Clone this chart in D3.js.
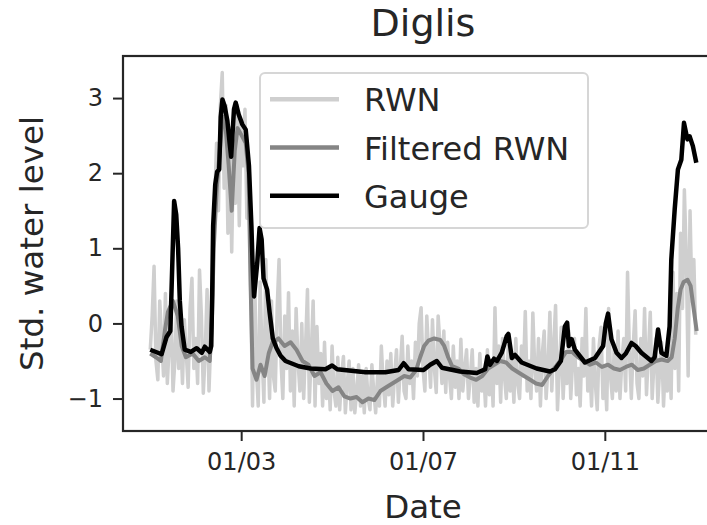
<!DOCTYPE html>
<html>
<head>
<meta charset="utf-8">
<script src="https://cdn.jsdelivr.net/npm/d3@7"></script>
<style>
  body { margin: 0; background: #fff; }
  svg { display: block; font-family: "DejaVu Sans", sans-serif; }
</style>
</head>
<body>
<div id="viz"></div>
<script>
// Data (hours since 01/01 00:00, standardised water level)
const gaugeHours = [0, 6, 8.6, 10.6, 12.6, 13.7, 14.7, 15.6, 16.5, 18.2, 21.4, 24.5, 27.2, 28.8, 31.4, 32.2,
  32.7, 33.2, 34.3, 35.3, 36.4, 37.2, 38.1, 39.3, 40.7, 41.9, 42.7, 44.2, 45.1, 46.7, 48.6, 50.4, 52.1,
  53.4, 54, 54.8, 56.5, 57.7, 58.8, 59.8, 61.7, 63, 64.7, 66.7, 68.8, 71.4, 78.4, 84.6, 92.5, 96, 98.7,
  113.6, 124.1, 131.1, 133.8, 136.4, 144.3, 147.8, 151.3, 154, 163.6, 172.4, 176.8, 178, 179.4, 181.5,
  183.1, 185.6, 188.2, 189.1, 190.9, 192.6, 196.1, 204, 211, 213.7, 216.8, 218.9, 220.1, 221, 222.5,
  224.2, 229.5, 234.8, 239.1, 240.5, 241.7, 243.5, 246.2, 248.8, 251.1, 254.1, 256.3, 259.3, 264.6,
  266.3, 268.1, 269.9, 272.5, 274.2, 275.1, 276.9, 278.6, 280.4, 281.8, 283.6, 284.8, 286.5, 288.3];
const gaugeValues = [-0.35, -0.41, -0.18, -0.1, 1.63, 1.45, 1.0, 0.3, -0.04, -0.35, -0.38, -0.33, -0.39, -0.31, -0.38, -0.3,
  0.4, 1.3, 1.85, 2.02, 2.05, 2.75, 2.98, 2.89, 2.7, 2.4, 2.22, 2.85, 2.94, 2.78, 2.65, 2.58, 2.1,
  1.3, 0.8, 0.36, 0.81, 1.27, 1.12, 0.6, 0.45, 0.15, -0.2, -0.33, -0.43, -0.5, -0.57, -0.6, -0.61, -0.56, -0.61,
  -0.65, -0.65, -0.62, -0.53, -0.61, -0.62, -0.55, -0.5, -0.59, -0.64, -0.66, -0.61, -0.44, -0.55, -0.47,
  -0.5, -0.39, -0.17, -0.14, -0.46, -0.42, -0.52, -0.6, -0.64, -0.61, -0.5, -0.04, 0.01, -0.3, -0.21,
  -0.35, -0.52, -0.46, -0.3, 0.0, 0.13, -0.21, -0.39, -0.46, -0.4, -0.26, -0.3, -0.39, -0.5,
  -0.45, -0.08, -0.39, -0.43, -0.04, 0.85, 1.52, 2.05, 2.18, 2.67, 2.45, 2.49, 2.36, 2.14];

const filteredHours = [0, 3, 5.6, 7.7, 9.3, 11.9, 14.5, 16.6, 18.8, 22.4, 25.6, 28.8, 31.4, 32.5, 33.5, 35.1,
  36.7, 38.2, 39.8, 41.4, 43, 44.6, 46.1, 48.3, 50.4, 51.9, 53, 54, 56.1, 58.2, 60.4, 62.5, 64.6, 67.7,
  70.9, 74.1, 77.2, 80.4, 83.5, 86.7, 89.9, 93, 96.2, 99.4, 102.5, 105.7, 108.9, 112, 115.2, 118.3,
  121.5, 124.6, 127.8, 131, 134.1, 137.3, 140.4, 142.5, 144.6, 146.8, 149.9, 153.1, 155.2, 157.3, 159.4,
  162.6, 165.8, 168.9, 172.1, 175.3, 178.4, 181.6, 184.7, 187.9, 191.1, 194.2, 197.4, 200.6, 203.7,
  206.9, 210, 213.2, 216.4, 219.5, 222.7, 225.9, 229, 232.2, 235.3, 238.5, 241.7, 244.8, 248, 251.1,
  254.3, 257.4, 260.6, 263.7, 266.9, 270, 273.2, 275.3, 276.9, 278.5, 280, 281.6, 283.7, 285.3, 286.9, 288.5];
const filteredValues = [-0.4, -0.45, -0.5, -0.1, 0.15, 0.3, 0.1, -0.3, -0.45, -0.4, -0.5, -0.45, -0.5, 0.0, 1.0, 1.8,
  2.3, 2.75, 2.6, 2.1, 1.5, 2.3, 2.6, 2.5, 2.4, 2.0, 0.5, -0.6, -0.75, -0.55, -0.7, -0.4, -0.25, -0.2,
  -0.3, -0.25, -0.35, -0.5, -0.55, -0.7, -0.65, -0.8, -0.9, -0.85, -0.97, -1.0, -0.98, -1.05, -1.0, -1.02,
  -0.9, -0.85, -0.8, -0.75, -0.7, -0.72, -0.62, -0.45, -0.3, -0.23, -0.2, -0.22, -0.3, -0.45, -0.57,
  -0.6, -0.68, -0.72, -0.75, -0.7, -0.6, -0.55, -0.5, -0.52, -0.6, -0.65, -0.7, -0.75, -0.8,
  -0.82, -0.7, -0.6, -0.5, -0.38, -0.38, -0.45, -0.5, -0.55, -0.52, -0.58, -0.55, -0.6, -0.62, -0.58,
  -0.55, -0.62, -0.6, -0.55, -0.5, -0.48, -0.5, -0.45, -0.2, 0.2, 0.45, 0.55, 0.58, 0.5, 0.2, -0.1];

// RWN, hourly from hour 0
const rwnValues = [
  -0.35, 0.1, 0.76, -0.5, -0.75, 0.3, -0.2, -0.7, 0.4, -0.8, -0.3, 0.2, -0.9, -0.5, 0.3, -0.6,
  -0.1, -0.8, 0.05, -0.4, -0.85, 0.2, 0.6, -0.6, -0.2, -0.8, 0.71, 0.1, -0.93, -0.4, 0.45, -0.9,
  -0.2, 0.5, 1.6, 2.4, 1.5, 2.9, 3.34, 1.8, 2.9, 1.2, 2.6, 0.95, 2.4, 1.6, 2.9, 1.3,
  2.7, 2.1, 2.85, 1.4, 2.0, 0.5, -1.1, 0.8, -0.6, -1.1, 0.55, -0.4, -1.05, 0.85, -0.2, -1.0,
  0.3, -0.7, -0.9, 0.2, 0.85, -0.5, -1.0, 0.1, -0.6, 0.41, -0.9, -0.1, -1.1, 0.2, -0.5, -0.9,
  0.0, -1.0, -0.3, 0.45, -1.05, -0.4, 0.3, -1.1, -0.04, -0.8, -0.4, -1.1, -0.25, -1.0, -0.6, -1.15,
  -0.3, -0.9, -1.1, -0.45, -1.15, -0.7, -0.44, -1.19, -0.8, -0.5, -1.15, -0.6, -1.19, -0.9, -0.55, -1.1,
  -0.7, -1.19, -0.6, -1.0, -1.15, -0.55, -0.9, -1.19, -0.7, -1.1, -0.3, -0.8, -1.1, -0.5, -0.95, -0.4,
  -1.1, -0.7, -0.35, -1.05, -0.6, -0.17, -0.9, -1.0, -0.3, -0.8, -0.5, -1.0, -0.25, -0.7, 0.0, 0.21,
  -0.6, -0.9, 0.1, -0.4, -0.85, 0.05, -0.6, -0.92, 0.1, -0.3, -0.8, -0.1, -0.92, -0.25, -0.7, -1.0,
  -0.3, -0.85, -0.5, -1.0, -0.21, -0.9, -0.6, -0.35, -1.0, -0.7, -0.35, -1.05, -0.6, -1.1, -0.4, -0.9,
  -0.6, -1.1, -0.35, -0.95, -0.5, -1.1, 0.21, -0.8, -0.3, -1.05, -0.2, -0.7, -1.0, -0.3, -0.9, -0.5,
  -1.05, -0.2, -0.8, -1.0, -0.3, -0.7, 0.16, -0.9, -0.5, -1.0, 0.14, -0.6, -0.9, -0.2, -1.1, -0.4,
  -0.1, -1.0, -0.6, 0.15, -0.9, -0.3, 0.24, -1.15, -0.6, -0.05, -1.0, -0.4, -0.8, -0.1, -1.0, -0.5,
  -0.2, -0.95, -0.6, -1.1, -0.2, -0.7, 0.2, -0.9, -0.5, -1.1, -0.2, -0.8, -1.15, -0.3, -0.05, -1.0,
  -0.6, -1.15, 0.2, -0.7, -1.0, -0.3, -0.9, -0.1, -1.0, -0.5, -0.2, -0.9, 0.68, -0.4, -1.0, -0.3,
  0.17, -0.8, -1.0, -0.2, -0.7, 0.2, -0.95, -0.4, 0.15, -1.0, -0.5, -0.2, -1.05, -0.6, -0.25, -1.1,
  -0.5, -0.9, -0.3, -1.0, 0.68, -0.6, 0.4, -0.9, 1.2, 0.2, 1.78, 0.9, -0.7, 1.5, 0.3, 0.85,
  -0.15];
const rwnHours = d3.range(rwnValues.length);

const yTicks = [-1, 0, 1, 2, 3];
const start = new Date(2020, 0, 1);
const xTicks = [new Date(2020, 0, 3), new Date(2020, 0, 7), new Date(2020, 0, 11)];

const toDate = h => new Date(start.getTime() + h * 3600e3);

const width = 707, height = 525;
const margin = { left: 123, right: 723, top: 56, bottom: 431 };

const svg = d3.select("#viz").append("svg")
  .attr("width", width)
  .attr("height", height);

const x = d3.scaleTime()
  .domain([toDate(-14.4), toDate(302.4)])
  .range([margin.left, margin.right]);

const y = d3.scaleLinear()
  .domain([-1.432, 3.56])
  .range([margin.bottom, margin.top]);

const line = d3.line()
  .x(d => x(toDate(d[0])))
  .y(d => y(d[1]));

svg.append("path")
  .datum(d3.zip(rwnHours, rwnValues))
  .attr("d", line)
  .attr("fill", "none")
  .attr("stroke", "#cfcfcf")
  .attr("stroke-width", 3.5)
  .attr("stroke-linejoin", "round");

svg.append("path")
  .datum(d3.zip(filteredHours, filteredValues))
  .attr("d", line)
  .attr("fill", "none")
  .attr("stroke", "#858585")
  .attr("stroke-width", 4)
  .attr("stroke-linejoin", "round");

svg.append("path")
  .datum(d3.zip(gaugeHours, gaugeValues))
  .attr("d", line)
  .attr("fill", "none")
  .attr("stroke", "#000")
  .attr("stroke-width", 4.5)
  .attr("stroke-linejoin", "round");

// axes
const yAxis = svg.append("g")
  .attr("transform", `translate(${margin.left},0)`)
  .call(d3.axisLeft(y).tickValues(yTicks).tickSize(10).tickPadding(10)
    .tickFormat(d => d < 0 ? "\u2212" + Math.abs(d) : d));

const xAxis = svg.append("g")
  .attr("transform", `translate(0,${margin.bottom})`)
  .call(d3.axisBottom(x).tickValues(xTicks).tickSize(10).tickPadding(12)
    .tickFormat(d3.timeFormat("%m/%d")));

[yAxis, xAxis].forEach(g => {
  g.select(".domain").remove();
  g.selectAll("line").attr("stroke", "#262626").attr("stroke-width", 2);
  g.selectAll("text").attr("fill", "#262626").style("font-size", "24px")
    .style("font-family", "DejaVu Sans");
});

// spines
svg.append("rect")
  .attr("x", margin.left)
  .attr("y", margin.top)
  .attr("width", margin.right - margin.left)
  .attr("height", margin.bottom - margin.top)
  .attr("fill", "none")
  .attr("stroke", "#262626")
  .attr("stroke-width", 2.2);

// labels
svg.append("text")
  .attr("x", (margin.left + margin.right) / 2)
  .attr("y", 36)
  .attr("text-anchor", "middle")
  .attr("fill", "#262626")
  .style("font-size", "38px")
  .text("Diglis");

svg.append("text")
  .attr("x", (margin.left + margin.right) / 2)
  .attr("y", 518)
  .attr("text-anchor", "middle")
  .attr("fill", "#262626")
  .style("font-size", "32.5px")
  .text("Date");

svg.append("text")
  .attr("transform", `translate(43,${(margin.top + margin.bottom) / 2}) rotate(-90)`)
  .attr("text-anchor", "middle")
  .attr("fill", "#262626")
  .style("font-size", "32.5px")
  .text("Std. water level");

// legend
const legendItems = ["RWN", "Filtered RWN", "Gauge"];
const legendColors = ["#cfcfcf", "#858585", "#000"];

const legend = svg.append("g");
legend.append("rect")
  .attr("x", 260)
  .attr("y", 73)
  .attr("width", 328)
  .attr("height", 155)
  .attr("rx", 5)
  .attr("fill", "#fff")
  .attr("fill-opacity", 0.8)
  .attr("stroke", "#d6d6d6")
  .attr("stroke-width", 2);

legendItems.forEach((name, i) => {
  const ly = 99.3 + i * 48.2;
  legend.append("line")
    .attr("x1", 270).attr("x2", 339)
    .attr("y1", ly).attr("y2", ly)
    .attr("stroke", legendColors[i])
    .attr("stroke-width", 4.5);
  legend.append("text")
    .attr("x", 364)
    .attr("y", ly + 12)
    .attr("fill", "#262626")
    .style("font-size", "32px")
    .text(name);
});
</script>
</body>
</html>
